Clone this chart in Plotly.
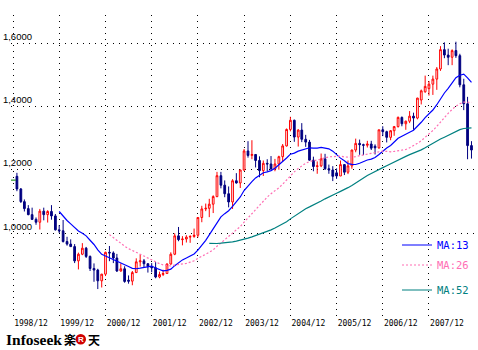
import pandas as pd
import plotly.graph_objects as go

# ---- EUR/USD monthly quotes -------------------------------------------------
# Reference quote for the month before the candles start (drawn as a flat tick)
first_month = "1998-12"
first_quote = 1.1670

months = [f"{y}-{m:02d}" for y in range(1999, 2009) for m in range(1, 13)][:119]

# open / high / low / close, one row per year (Jan..Dec)
open_ = [
    1.1790, 1.1390, 1.0990, 1.0770, 1.0580, 1.0430, 1.0340, 1.0690, 1.0580, 1.0680, 1.0540, 1.0100,
    1.0070, 0.9730, 0.9650, 0.9570, 0.9120, 0.9330, 0.9520, 0.9260, 0.8880, 0.8830, 0.8490, 0.8700,
    0.9390, 0.9370, 0.9210, 0.8800, 0.8870, 0.8510, 0.8480, 0.8750, 0.9090, 0.9120, 0.9030, 0.8940,
    0.8900, 0.8610, 0.8690, 0.8720, 0.9020, 0.9330, 0.9910, 0.9790, 0.9810, 0.9870, 0.9890, 0.9930,
    1.0490, 1.0760, 1.0780, 1.0910, 1.1150, 1.1810, 1.1510, 1.1240, 1.0980, 1.1650, 1.1580, 1.1990,
    1.2590, 1.2450, 1.2480, 1.2290, 1.1970, 1.2200, 1.2180, 1.2020, 1.2180, 1.2410, 1.2750, 1.3270,
    1.3560, 1.3030, 1.3250, 1.2960, 1.2870, 1.2300, 1.2100, 1.2120, 1.2340, 1.2030, 1.1990, 1.1900,
    1.1800, 1.2160, 1.1920, 1.2120, 1.2620, 1.2830, 1.2790, 1.2770, 1.2810, 1.2740, 1.2690, 1.3260,
    1.3200, 1.3020, 1.3230, 1.3360, 1.3650, 1.3450, 1.3530, 1.3690, 1.3630, 1.4200, 1.4460, 1.4560,
    1.4700, 1.4860, 1.5180, 1.5790, 1.5620, 1.5550, 1.5760, 1.5600, 1.4680, 1.4080, 1.2760,
]
high = [
    1.1900, 1.1420, 1.1060, 1.0880, 1.0800, 1.0490, 1.0760, 1.0800, 1.0720, 1.0880, 1.0600, 1.0250,
    1.0410, 0.9880, 0.9800, 0.9650, 0.9380, 0.9680, 0.9560, 0.9290, 0.9040, 0.8870, 0.8710, 0.9410,
    0.9590, 0.9420, 0.9340, 0.9040, 0.8950, 0.8660, 0.8800, 0.9200, 0.9320, 0.9180, 0.9040, 0.9050,
    0.9080, 0.8780, 0.8840, 0.9040, 0.9390, 0.9990, 1.0190, 0.9900, 0.9930, 0.9930, 1.0140, 1.0500,
    1.0860, 1.0930, 1.1080, 1.1190, 1.1930, 1.1930, 1.1660, 1.1470, 1.1700, 1.1890, 1.2000, 1.2650,
    1.2900, 1.2930, 1.2490, 1.2420, 1.2290, 1.2330, 1.2430, 1.2340, 1.2440, 1.2810, 1.3300, 1.3670,
    1.3580, 1.3280, 1.3470, 1.3100, 1.2940, 1.2410, 1.2260, 1.2510, 1.2500, 1.2160, 1.2110, 1.2040,
    1.2290, 1.2180, 1.2290, 1.2630, 1.2980, 1.2950, 1.2820, 1.2910, 1.2910, 1.2800, 1.3260, 1.3370,
    1.3230, 1.3250, 1.3380, 1.3680, 1.3680, 1.3550, 1.3850, 1.3800, 1.4270, 1.4530, 1.4970, 1.4800,
    1.4970, 1.5240, 1.5900, 1.6020, 1.5820, 1.5800, 1.6040, 1.5660, 1.4870, 1.4300, 1.2900,
]
low = [
    1.1320, 1.0950, 1.0680, 1.0560, 1.0410, 1.0260, 1.0110, 1.0400, 1.0330, 1.0420, 1.0080, 1.0000,
    0.9700, 0.9600, 0.9560, 0.9050, 0.8850, 0.9300, 0.9210, 0.8800, 0.8460, 0.8230, 0.8280, 0.8640,
    0.9110, 0.9050, 0.8770, 0.8780, 0.8430, 0.8400, 0.8350, 0.8740, 0.8940, 0.8920, 0.8750, 0.8760,
    0.8570, 0.8570, 0.8640, 0.8710, 0.9000, 0.9300, 0.9740, 0.9610, 0.9700, 0.9690, 0.9850, 0.9860,
    1.0340, 1.0690, 1.0500, 1.0630, 1.1130, 1.1410, 1.1130, 1.0810, 1.0760, 1.1560, 1.1420, 1.1960,
    1.2380, 1.2330, 1.2070, 1.1760, 1.1800, 1.1950, 1.2000, 1.1950, 1.2000, 1.2250, 1.2730, 1.3210,
    1.2880, 1.2730, 1.2870, 1.2720, 1.2290, 1.1950, 1.1870, 1.2080, 1.1990, 1.1870, 1.1640, 1.1710,
    1.1800, 1.1830, 1.1860, 1.2030, 1.2550, 1.2470, 1.2460, 1.2700, 1.2620, 1.2480, 1.2660, 1.3060,
    1.2860, 1.2930, 1.3070, 1.3330, 1.3370, 1.3260, 1.3470, 1.3260, 1.3590, 1.4060, 1.4430, 1.4340,
    1.4360, 1.4520, 1.5120, 1.5520, 1.5300, 1.5300, 1.5530, 1.4600, 1.3880, 1.2330, 1.2350,
]
close = [
    1.1390, 1.0990, 1.0770, 1.0580, 1.0430, 1.0340, 1.0690, 1.0580, 1.0680, 1.0540, 1.0100, 1.0070,
    0.9730, 0.9650, 0.9570, 0.9120, 0.9330, 0.9520, 0.9260, 0.8880, 0.8830, 0.8490, 0.8700, 0.9390,
    0.9370, 0.9210, 0.8800, 0.8870, 0.8470, 0.8480, 0.8750, 0.9090, 0.9120, 0.9030, 0.8940, 0.8900,
    0.8610, 0.8690, 0.8720, 0.9020, 0.9330, 0.9910, 0.9790, 0.9810, 0.9870, 0.9890, 0.9930, 1.0490,
    1.0760, 1.0780, 1.0910, 1.1150, 1.1810, 1.1510, 1.1240, 1.0980, 1.1650, 1.1580, 1.1990, 1.2590,
    1.2450, 1.2480, 1.2290, 1.1970, 1.2200, 1.2180, 1.2020, 1.2180, 1.2410, 1.2750, 1.3270, 1.3560,
    1.3030, 1.3250, 1.2960, 1.2870, 1.2300, 1.2100, 1.2120, 1.2340, 1.2030, 1.1990, 1.1790, 1.1800,
    1.2160, 1.1920, 1.2120, 1.2620, 1.2830, 1.2790, 1.2770, 1.2810, 1.2680, 1.2690, 1.3260, 1.3200,
    1.3020, 1.3230, 1.3360, 1.3650, 1.3450, 1.3530, 1.3690, 1.3630, 1.4260, 1.4490, 1.4630, 1.4700,
    1.4860, 1.5180, 1.5790, 1.5620, 1.5550, 1.5760, 1.5600, 1.4680, 1.4080, 1.2760, 1.2620,
]

ma_periods = [13, 26, 52]
ma_colors = ["#0000FF", "#FF6EB4", "#008080"]
ma_dashes = ["solid", "2px,2px", "solid"]

tick_months = [f"{y}-12" for y in range(1998, 2008)]
y_ticks = [1.0, 1.2, 1.4, 1.6]
y_tick_text = ["1,0000", "1,2000", "1,4000", "1,6000"]

# ---- moving averages of the closes (incl. the opening reference quote) ------
all_months = pd.to_datetime([first_month] + months)
closes = pd.Series([first_quote] + close, index=all_months)

fig = go.Figure()

fig.add_trace(go.Candlestick(
    x=pd.to_datetime(months), open=open_, high=high, low=low, close=close,
    increasing=dict(line=dict(color="#FF0000", width=1), fillcolor="#FFFFFF"),
    decreasing=dict(line=dict(color="#000080", width=1), fillcolor="#000080"),
    whiskerwidth=0, showlegend=False, hoverinfo="skip",
))

fig.add_trace(go.Scatter(
    x=pd.to_datetime([first_month]), y=[first_quote], mode="markers",
    marker=dict(symbol="line-ew", size=4, line=dict(color="#008000", width=1)),
    showlegend=False, hoverinfo="skip",
))

legend_ids = ["legend", "legend2", "legend3"]
for period, color, dash, lg in zip(ma_periods, ma_colors, ma_dashes, legend_ids):
    ma = closes.rolling(period).mean().dropna()
    fig.add_trace(go.Scatter(
        x=ma.index, y=ma.values, mode="lines", name=f"MA:{period}",
        line=dict(color=color, width=1.2, dash=dash),
        legend=lg, hoverinfo="skip",
    ))

# ---- geometry helpers (pixel -> paper) --------------------------------------
W, H = 478, 350
L, R, T, B = 11, 477, 15, 317
px_per_day = 46.22 / 365.2425
anchor = pd.Timestamp("1998-12-01")          # sits on x = 13 px
x_start = anchor - pd.Timedelta(days=(13 - L) / px_per_day)
x_end = anchor + pd.Timedelta(days=(R - 13) / px_per_day)

px_per_unit = 190 / 0.6                       # 1.0 at y=233, 1.6 at y=43
y_top = 1.6 + (43 - T) / px_per_unit
y_bot = 1.0 - (B - 233) / px_per_unit


def px(xp):
    return (xp - L) / (R - L)


def py(yp):
    return (B - yp) / (B - T)


dots = "1px,5px"

legend_common = dict(
    xanchor="left", yanchor="middle", bgcolor="rgba(0,0,0,0)",
    borderwidth=0, itemwidth=30, tracegroupgap=0,
)
legend_rows = [245, 265, 290]
legends = {}
for lg, color, row in zip(legend_ids, ma_colors, legend_rows):
    legends[lg] = dict(
        legend_common, x=px(397), y=py(row),
        font=dict(family="DejaVu Sans Mono", size=10.5, color=color),
    )

fig.update_layout(
    width=W, height=H, autosize=False,
    margin=dict(l=L, r=W - R, t=T, b=H - B, pad=0),
    paper_bgcolor="white", plot_bgcolor="white",
    showlegend=True,
    **legends,
    xaxis=dict(
        type="date", range=[x_start, x_end],
        tickvals=pd.to_datetime(tick_months), tickformat="%Y/%m",
        showgrid=True, gridcolor="#000000", gridwidth=1, griddash=dots,
        zeroline=False, showline=False, ticks="",
        ticklabelshift=18,
        tickfont=dict(family="DejaVu Sans Mono", size=8, color="#000000"),
        rangeslider=dict(visible=False),
    ),
    yaxis=dict(
        range=[y_bot, y_top], tickvals=y_ticks, ticktext=y_tick_text,
        ticklabelposition="outside top", ticklabelstandoff=-22,
        showgrid=True, gridcolor="#000000", gridwidth=1, griddash=dots,
        zeroline=False, showline=False, ticks="",
        tickfont=dict(family="Liberation Sans", size=9.5, color="#000000"),
    ),
)

# ---- Infoseek / Rakuten logo -------------------------------------------------
logo_y = py(339)
fig.add_annotation(
    x=px(4), y=logo_y, xref="paper", yref="paper", xanchor="left", yanchor="middle",
    text="<b>Infoseek</b>", showarrow=False,
    font=dict(family="Liberation Serif", size=15.5, color="#000000"),
)
fig.add_annotation(
    x=px(62), y=logo_y, xref="paper", yref="paper", xanchor="left", yanchor="middle",
    text="<b>楽</b>", showarrow=False,
    font=dict(family="Noto Sans CJK JP", size=12, color="#000000"),
)
fig.add_shape(
    type="circle", xref="paper", yref="paper",
    x0=px(75.5), x1=px(86), y0=py(344.5), y1=py(334),
    fillcolor="#D00000", line=dict(width=0),
)
fig.add_annotation(
    x=px(80.75), y=py(339.2), xref="paper", yref="paper", xanchor="center", yanchor="middle",
    text="<b>R</b>", showarrow=False,
    font=dict(family="Liberation Sans", size=8, color="#FFFFFF"),
)
fig.add_annotation(
    x=px(86), y=logo_y, xref="paper", yref="paper", xanchor="left", yanchor="middle",
    text="<b>天</b>", showarrow=False,
    font=dict(family="Noto Sans CJK JP", size=12, color="#000000"),
)

fig.write_html("out.html")
